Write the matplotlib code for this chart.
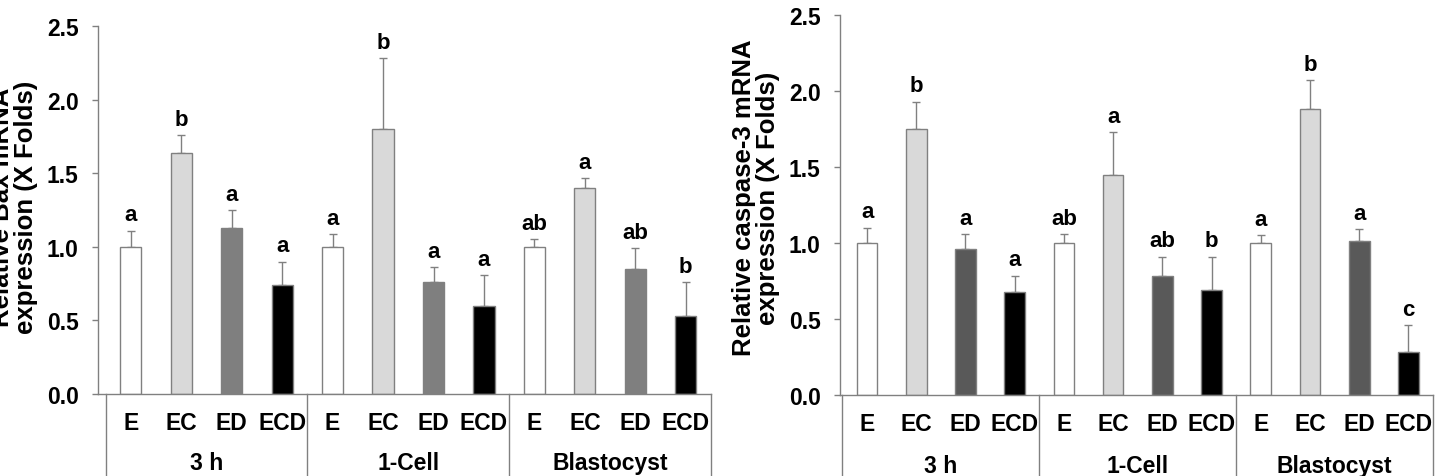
import numpy as np
import matplotlib
matplotlib.use("Agg")
import matplotlib.pyplot as plt
from matplotlib.transforms import blended_transform_factory

plt.rcParams['font.family'] = ['Liberation Sans', 'DejaVu Sans']
plt.rcParams['font.weight'] = 'bold'

# data
treatments = ["E", "EC", "ED", "ECD"]
stages = ["3 h", "1-Cell", "Blastocyst"]

bax_mean = [1.00, 1.64, 1.13, 0.74,
            1.00, 1.80, 0.76, 0.60,
            1.00, 1.40, 0.85, 0.53]
bax_err = [0.11, 0.12, 0.12, 0.16,
           0.085, 0.48, 0.10, 0.21,
           0.05, 0.065, 0.14, 0.23]
bax_letters = ["a", "b", "a", "a",
               "a", "b", "a", "a",
               "ab", "a", "ab", "b"]

casp_mean = [1.00, 1.75, 0.96, 0.675,
             1.00, 1.45, 0.78, 0.69,
             1.00, 1.88, 1.01, 0.28]
casp_err = [0.10, 0.18, 0.10, 0.11,
            0.06, 0.28, 0.13, 0.22,
            0.05, 0.19, 0.08, 0.18]
casp_letters = ["a", "b", "a", "a",
                "ab", "a", "ab", "b",
                "a", "b", "a", "c"]

W, H = 1437, 477
fig = plt.figure(figsize=(W / 100, H / 100), dpi=100)

edge = "#808080"
fs = 16.5


def draw(ax, means, errs, letters, colors, xleft):
    x = np.arange(len(means))
    ax.bar(x, means, width=0.42, color=colors, edgecolor=edge, linewidth=1, zorder=2)
    ax.errorbar(x, means, yerr=[np.zeros(len(errs)), errs], fmt="none",
                ecolor=edge, elinewidth=1, capsize=3, capthick=1, zorder=1)
    for xi, m, e, l in zip(x, means, errs, letters):
        ax.text(xi, m + e + 0.035, l, ha="center", va="bottom", fontsize=16, fontweight="bold")
    ax.set_xlim(xleft, 11.5)
    ax.set_ylim(0, 2.5)
    ax.set_yticks([0, 0.5, 1.0, 1.5, 2.0, 2.5])
    ax.set_yticklabels(["0.0", "0.5", "1.0", "1.5", "2.0", "2.5"])
    ax.set_xticks(x)
    ax.set_xticklabels(treatments * 3)
    ax.tick_params(axis="x", length=0, pad=12, labelsize=fs)
    ax.tick_params(axis="y", length=4, width=1, color=edge, labelsize=fs, pad=10)
    for t in ax.get_xticklabels() + ax.get_yticklabels():
        t.set_fontweight("bold")
    for s in ["top", "right"]:
        ax.spines[s].set_visible(False)
    for s in ["left", "bottom"]:
        ax.spines[s].set_color(edge)
        ax.spines[s].set_linewidth(1)
    tr = blended_transform_factory(ax.transData, ax.transAxes)
    for sx in [-0.5, 3.5, 7.5, 11.5]:
        ax.plot([sx, sx], [0, -0.4], transform=tr, color=edge, lw=1, clip_on=False)
    for i, st in enumerate(stages):
        ax.text(i * 4 + 1.5, -0.185, st, transform=tr, ha="center", va="center",
                fontsize=fs, fontweight="bold")


ax1 = fig.add_axes([98 / W, 1 - 395 / H, (711 - 98) / W, (395 - 27) / H])
draw(ax1, bax_mean, bax_err, bax_letters,
     ["white", "#d9d9d9", "#7f7f7f", "black"] * 3, -0.65)

ax2 = fig.add_axes([840 / W, 1 - 396 / H, (1433 - 840) / W, (396 - 16) / H])
draw(ax2, casp_mean, casp_err, casp_letters,
     ["white", "#d9d9d9", "#595959", "black"] * 3, -0.55)

fig.text(14 / W, 1 - 207 / H, "Relative Bax mRNA\nexpression (X Folds)", rotation=90,
         ha="center", va="center", multialignment="center", fontsize=18.5,
         fontweight="bold", linespacing=1.0)
fig.text(756 / W, 1 - 198 / H, "Relative caspase-3 mRNA\nexpression (X Folds)", rotation=90,
         ha="center", va="center", multialignment="center", fontsize=18.5,
         fontweight="bold", linespacing=1.0)

fig.savefig("out.png", dpi=100)
